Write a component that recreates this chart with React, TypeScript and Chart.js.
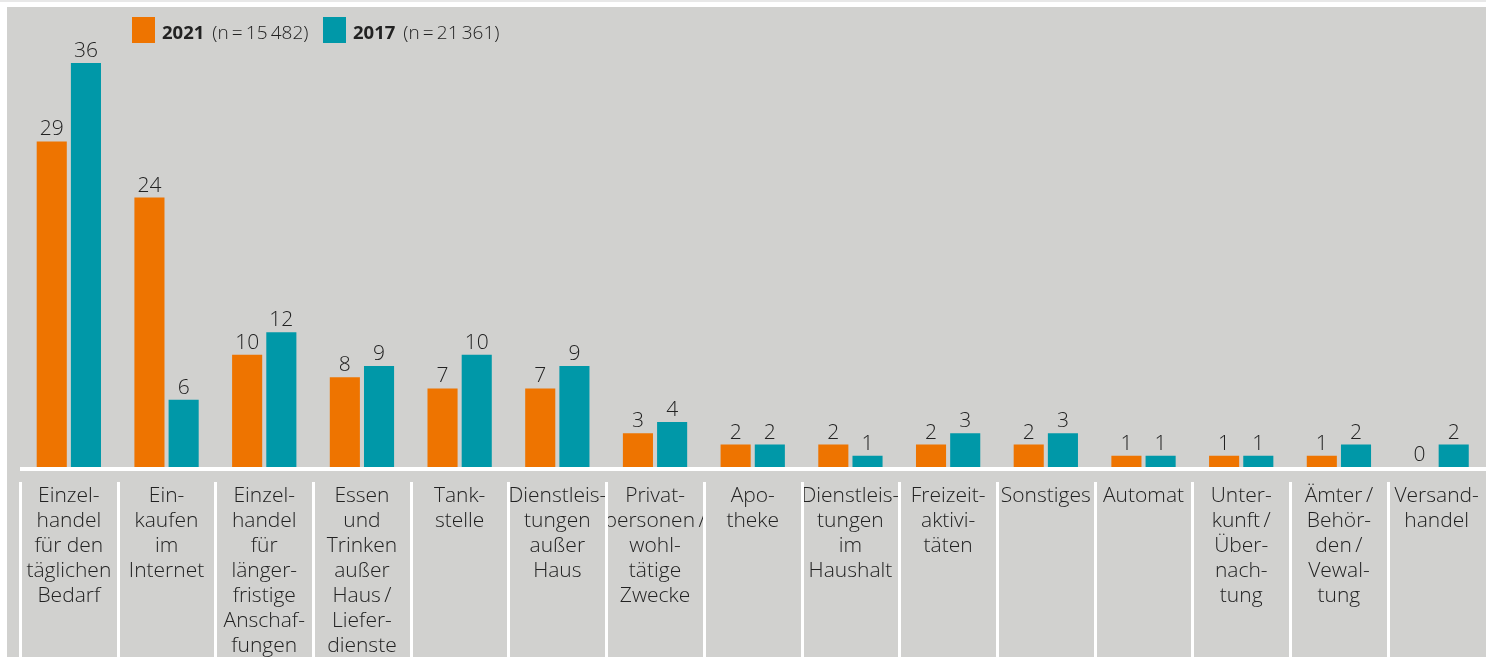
import { useEffect, useRef } from 'react';
import { Chart, registerables } from 'chart.js';

Chart.register(...registerables);

// ---- Data ----
const categories: string[][] = [
  ['Einzel-', 'handel', 'für den', 'täglichen', 'Bedarf'],
  ['Ein-', 'kaufen', 'im', 'Internet'],
  ['Einzel-', 'handel', 'für', 'länger-', 'fristige', 'Anschaf-', 'fungen'],
  ['Essen', 'und', 'Trinken', 'außer', 'Haus\u2009/', 'Liefer-', 'dienste'],
  ['Tank-', 'stelle'],
  ['Dienstleis-', 'tungen', 'außer', 'Haus'],
  ['Privat-', 'personen\u2009/', 'wohl-', 'tätige', 'Zwecke'],
  ['Apo-', 'theke'],
  ['Dienstleis-', 'tungen', 'im', 'Haushalt'],
  ['Freizeit-', 'aktivi-', 'täten'],
  ['Sonstiges'],
  ['Automat'],
  ['Unter-', 'kunft\u2009/', 'Über-', 'nach-', 'tung'],
  ['Ämter\u2009/', 'Behör-', 'den\u2009/', 'Vewal-', 'tung'],
  ['Versand-', 'handel'],
];
const values2021 = [29, 24, 10, 8, 7, 7, 3, 2, 2, 2, 2, 1, 1, 1, 0];
const values2017 = [36, 6, 12, 9, 10, 9, 4, 2, 1, 3, 3, 1, 1, 2, 2];
const seriesNames = ['2021', '2017'];
const sampleSizes = ['(n\u2009=\u200915\u2009482)', '(n\u2009=\u200921\u2009361)'];

const ORANGE = '#ee7400';
const TEAL = '#0098a8';
const GREY = '#d1d1cf';
const TEXT = '#222222';
const FONT = '"Open Sans", "Noto Sans", sans-serif';

const W = 1496;
const H = 665;
const BASE_Y = 467;

const backgroundPlugin = {
  id: 'bgPlugin',
  beforeDraw(chart: any) {
    const ctx = chart.ctx;
    ctx.save();
    ctx.fillStyle = '#ffffff';
    ctx.fillRect(0, 0, chart.width, chart.height);
    ctx.fillStyle = '#e8e8e8';
    ctx.fillRect(0, 0, chart.width, 2);
    ctx.fillStyle = GREY;
    ctx.fillRect(7, 7, chart.width - 7, chart.height - 7);
    ctx.restore();
  },
};

const decorPlugin = {
  id: 'decorPlugin',
  afterDraw(chart: any) {
    const ctx = chart.ctx;
    const area = chart.chartArea;
    const xs = chart.scales.x;
    ctx.save();
    // baseline
    ctx.fillStyle = '#ffffff';
    ctx.fillRect(area.left, area.bottom, chart.width - area.left, 4);
    // separators between category labels
    const n = categories.length;
    const step = (area.right - area.left) / n;
    for (let i = 0; i < n; i++) {
      const x = xs.getPixelForValue(i) - step / 2;
      ctx.fillRect(Math.round(x) - 1, area.bottom + 15, 3, chart.height);
    }
    // value labels
    ctx.fillStyle = TEXT;
    ctx.font = `300 21px ${FONT}`;
    ctx.textAlign = 'center';
    ctx.textBaseline = 'alphabetic';
    chart.data.datasets.forEach((ds: any, di: number) => {
      const meta = chart.getDatasetMeta(di);
      meta.data.forEach((bar: any, i: number) => {
        ctx.fillText(String(ds.data[i]), bar.x, bar.y - 6);
      });
    });
    // legend
    const colors = [ORANGE, TEAL];
    const starts = [132, 323];
    chart.data.datasets.forEach((ds: any, di: number) => {
      const x0 = starts[di];
      ctx.fillStyle = colors[di];
      ctx.fillRect(x0, 17, 23, 26);
      ctx.fillStyle = TEXT;
      ctx.textAlign = 'left';
      ctx.font = `bold 18.5px ${FONT}`;
      ctx.fillText(seriesNames[di], x0 + 30, 38.5);
      const w = ctx.measureText(seriesNames[di]).width;
      ctx.font = `300 19px ${FONT}`;
      ctx.fillText(sampleSizes[di], x0 + 30 + w + 8, 38.5);
    });
    ctx.restore();
  },
};

export default function App() {
  const ref = useRef<HTMLCanvasElement>(null);
  useEffect(() => {
    if (!ref.current) return;
    const chart = new Chart(ref.current, {
      type: 'bar',
      data: {
        labels: categories,
        datasets: [
          {
            label: seriesNames[0],
            data: values2021,
            backgroundColor: ORANGE,
            categoryPercentage: 0.7,
            barPercentage: 0.88,
          },
          {
            label: seriesNames[1],
            data: values2017,
            backgroundColor: TEAL,
            categoryPercentage: 0.7,
            barPercentage: 0.88,
          },
        ],
      },
      options: {
        responsive: false,
        animation: false,
        devicePixelRatio: 1,
        layout: { padding: { left: 20, right: 6, top: 18, bottom: 0 } },
        plugins: {
          legend: { display: false },
          tooltip: { enabled: false },
        },
        scales: {
          y: {
            display: false,
            min: 0,
            max: 40,
          },
          x: {
            afterFit(scale: any) {
              scale.height = H - BASE_Y;
            },
            grid: { display: false, drawTicks: false },
            border: { display: false },
            ticks: {
              autoSkip: false,
              maxRotation: 0,
              minRotation: 0,
              padding: 17,
              color: TEXT,
              font: { family: FONT, size: 21, weight: '300', lineHeight: '25px' },
            },
          },
        },
      },
      plugins: [backgroundPlugin, decorPlugin],
    } as any);
    return () => chart.destroy();
  }, []);
  return (
    <div
      style={{
        position: 'fixed',
        left: 0,
        top: 0,
        width: 1486,
        height: 657,
        overflow: 'hidden',
        background: '#fff',
      }}
    >
      <canvas ref={ref} width={W} height={H} style={{ display: 'block', width: W, height: H }} />
    </div>
  );
}
